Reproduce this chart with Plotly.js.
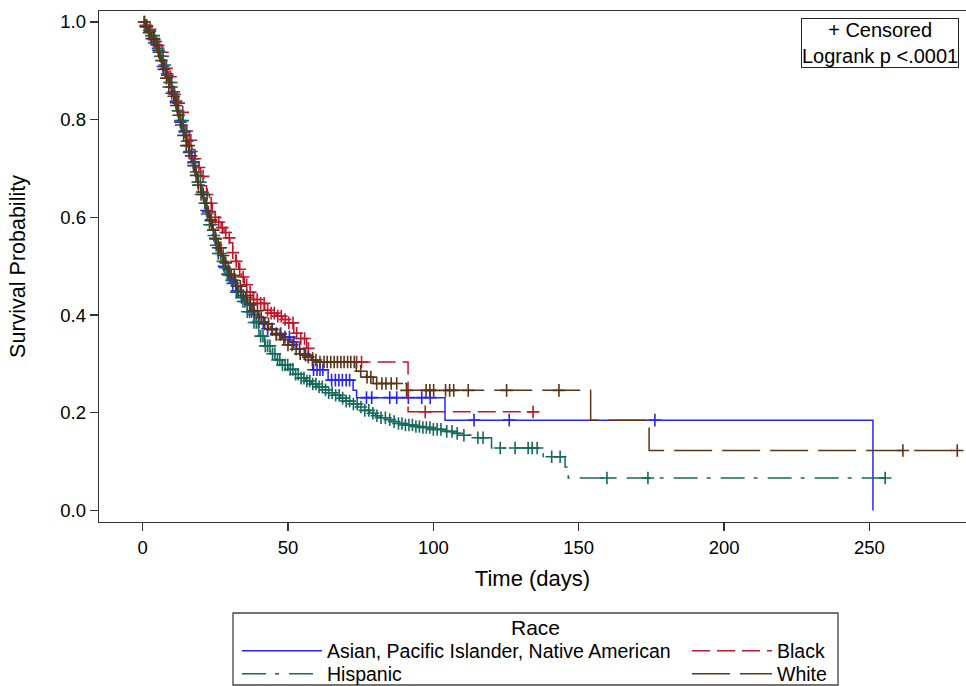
<!DOCTYPE html>
<html><head><meta charset="utf-8">
<script src="https://cdn.plot.ly/plotly-3.0.1.min.js"></script>
<style>html,body{margin:0;padding:0;background:#fff}#chart{width:966px;height:686px}</style>
</head><body><div id="chart"></div>
<script>
// ---- Data (time in days, survival probability) ----
var groupNames = ['Asian, Pacific Islander, Native American', 'Black', 'Hispanic', 'White'];

var asianT = [0,1,2,3,4,5,6,7,8,9,10,11,12,13,14,15,16,17,18,19,20,21,22,23,24,25,26,27,28,29,30,32,34,36,38,40,43,46,48,50.7,53,56,58.5,63.8,72.4,73.6,104,251.2];
var asianS = [1,0.991,0.981,0.97,0.957,0.942,0.926,0.909,0.891,0.873,0.854,0.835,0.815,0.795,0.775,0.754,0.733,0.712,0.692,0.672,0.652,0.633,0.614,0.595,0.576,0.557,0.538,0.519,0.5,0.482,0.465,0.45,0.436,0.421,0.401,0.386,0.372,0.362,0.355,0.345,0.33,0.318,0.288,0.267,0.246,0.231,0.185,0];
var asianC = [1,2.5,4,5.5,7,8.5,10,11.5,13,14.5,16,17.5,19,20.5,22,23.5,25,26.5,28,29.5,31,32.5,34,35.5,37,38.5,40,41.5,43,44.5,46,47.5,49,50.5,52,54,56,58.8,60,61,62,65,66.3,67.5,68.7,70,71.2,77,78.8,85,87.4,91.4,96,98.9,114,126.1,176.2];

var blackT = [0,1,2,3,4,5,6,7,8,9,10,11,12,13,14,15,16,17,18,19,20,21,22,23,24,25,26,27,28,29,30,31,32,33,34,35,36,38,40,42,44,46,48,50,52,54,56.4,58.5,91.3,134.3];
var blackS = [1,0.993,0.985,0.975,0.964,0.952,0.938,0.922,0.905,0.888,0.87,0.852,0.834,0.815,0.796,0.777,0.758,0.739,0.72,0.702,0.684,0.665,0.647,0.629,0.612,0.6,0.59,0.579,0.569,0.558,0.548,0.528,0.51,0.494,0.478,0.462,0.447,0.432,0.424,0.41,0.404,0.398,0.391,0.384,0.363,0.352,0.332,0.304,0.202,0.202];
var blackC = [1.2,2.6,4,5.4,6.8,8.2,9.6,11,12.4,13.8,15.2,16.6,18,19.4,20.8,22.2,23.6,25,26.2,27.4,28.6,29.8,31,32.2,33.4,34.6,35.8,37,38.2,39.4,40.6,41.8,43,44.2,45.3,46.5,47.7,49,50.3,51.7,53,54.4,55.7,57,73.6,75.3,97.2,134.3];

var hispT = [0,1,2,3,4,5,6,7,8,9,10,11,12,13,14,15,16,17,18,19,20,21,22,23,24,25,26,27,28,29,30,32,34,36,38,40,42,44,46,48,50,52,54,56,58,60,62,64,66,68,70,72,74,76,78,80,82,84,86,88,90,93,96,100,104,107,110,113,120,137.8,145.3,146.4,255.4];
var hispS = [1,0.992,0.983,0.972,0.96,0.946,0.93,0.912,0.894,0.876,0.857,0.838,0.818,0.798,0.777,0.756,0.735,0.714,0.693,0.672,0.651,0.629,0.607,0.585,0.563,0.543,0.526,0.51,0.497,0.484,0.471,0.447,0.428,0.407,0.385,0.357,0.337,0.321,0.308,0.298,0.289,0.279,0.271,0.265,0.259,0.253,0.247,0.241,0.236,0.23,0.224,0.218,0.212,0.205,0.199,0.194,0.19,0.186,0.182,0.178,0.175,0.172,0.17,0.166,0.162,0.158,0.154,0.149,0.128,0.11,0.089,0.0667,0.0667];
var hispC = [0.7,1.5,2.3,3,3.8,4.6,5.3,6.1,6.9,7.6,8.4,9.2,9.9,10.7,11.5,12.2,13,13.8,14.5,15.3,16.1,16.8,17.6,18.4,19.1,19.9,20.7,21.4,22.2,23,23.7,24.5,25.3,26,26.8,27.6,28.3,29.1,29.9,30.6,31.4,32.2,32.9,33.7,34.5,35.2,36,36.8,37.5,38.3,39.1,39.8,40.6,41.4,42.2,43,43.8,44.7,45.5,46.4,47.2,48.1,49,49.9,50.8,51.7,52.6,53.5,54.5,55.5,56.5,57.5,58.5,59.6,60.7,61.8,62.9,64,65.2,66.4,67.6,68.8,70,71.2,72.5,73.8,75.1,76.4,77.8,79.2,80.6,82,83.5,85,86.5,88,89.2,90.4,91.6,92.8,94,95.2,96.4,97.6,98.8,100,101.3,102.6,104.6,106.4,108.2,110.5,115.3,117.1,123,128.1,132.6,134,135.7,140.7,143.6,159.7,173.8,255.4];

var whiteT = [0,1,2,3,4,5,6,7,8,9,10,11,12,13,14,15,16,17,18,19,20,21,22,23,24,25,26,27,28,29,30,32,34,36,38,40,42,44,46,48,50,52,54,56,58,60,73.5,77,79.3,90.8,154.1,174.2,280.2];
var whiteS = [1,0.99,0.978,0.966,0.953,0.938,0.921,0.903,0.885,0.867,0.848,0.829,0.809,0.789,0.768,0.747,0.726,0.706,0.686,0.666,0.647,0.629,0.611,0.593,0.574,0.556,0.538,0.522,0.507,0.494,0.481,0.459,0.44,0.424,0.409,0.395,0.382,0.37,0.36,0.35,0.339,0.33,0.321,0.314,0.308,0.304,0.285,0.273,0.26,0.246,0.185,0.123,0.123];
var whiteC = [0.5,1.4,2.2,3.1,3.9,4.8,5.6,6.5,7.3,8.2,9,9.9,10.7,11.6,12.4,13.3,14.1,15,15.8,16.7,17.5,18.4,19.2,20.1,20.9,21.8,22.6,23.5,24.3,25.2,26,26.9,27.7,28.6,29.5,30.5,31.5,32.5,33.6,34.7,35.8,37,38.3,39.5,40.8,42,43.3,44.6,46,47.3,48.6,50,51.4,52.8,54.2,55.6,57,58.4,59.6,61,62.4,63.5,64.7,65.9,67,68.2,69.3,70.5,71.6,72.8,75,77.2,78.5,80.5,82.3,83.7,85.5,87.4,90.8,97.5,98.8,100.1,104.2,105.6,107,112,125.2,143.2,261.5,280.2];

var xTicks = [0, 50, 100, 150, 200, 250];
var yTicks = [0, 0.2, 0.4, 0.6, 0.8, 1.0];
var yTickText = ['0.0', '0.2', '0.4', '0.6', '0.8', '1.0'];

// ---- Styling ----
var colors = ['#2626F2', '#C0182B', '#15695C', '#5C3418'];
var dashes = ['solid', '18px,7px', '24px,9px,4px,10px', '38px,10px'];
var legendIds = ['legend', 'legend2', 'legend3', 'legend4'];

function survAt(T, S, t) {
  var v = S[0];
  for (var i = 0; i < T.length; i++) { if (T[i] <= t) v = S[i]; else break; }
  return v;
}

var series = [
  [asianT, asianS, asianC],
  [blackT, blackS, blackC],
  [hispT, hispS, hispC],
  [whiteT, whiteS, whiteC]
];

var traces = [];
series.forEach(function (g, k) {
  traces.push({
    type: 'scatter', mode: 'lines', x: g[0], y: g[1], name: groupNames[k],
    legend: legendIds[k], showlegend: true, hoverinfo: 'skip',
    line: { shape: 'hv', color: colors[k], width: 1.5, dash: dashes[k] }
  });
  traces.push({
    type: 'scatter', mode: 'markers', x: g[2],
    y: g[2].map(function (t) { return survAt(g[0], g[1], t); }),
    showlegend: false, hoverinfo: 'skip', cliponaxis: true,
    marker: { symbol: 'cross-thin', size: 9, color: colors[k], line: { color: colors[k], width: 1.6 } }
  });
});

var L = 99, T = 11, B = 164, PW = 966 - 99, PH = 686 - 11 - 164;
function px2x(px) { return (px - L) / PW; }
function py2y(py) { return (686 - B - py) / PH; }

function legendAt(xpx, ypx) {
  return {
    x: px2x(xpx), y: py2y(ypx), xanchor: 'left', yanchor: 'middle', orientation: 'v',
    bgcolor: 'rgba(0,0,0,0)', borderwidth: 0, itemwidth: 80,
    font: { size: 19.5, color: '#000' }
  };
}

var axisColor = '#333';
var layout = {
  width: 966, height: 686,
  margin: { l: L, r: 0, t: T, b: B, autoexpand: false },
  paper_bgcolor: '#fff', plot_bgcolor: '#fff',
  font: { family: 'Arial, "Liberation Sans", Helvetica, sans-serif', color: '#000' },
  showlegend: true,
  xaxis: {
    range: [-15, 283.2], tickvals: xTicks, ticks: 'outside', ticklen: 8, tickwidth: 1.3, tickcolor: axisColor,
    showline: true, linecolor: axisColor, linewidth: 1.3, mirror: true, showgrid: false, zeroline: false,
    tickfont: { size: 18.5 },
    title: { text: 'Time (days)', font: { size: 22 }, standoff: 14 }
  },
  yaxis: {
    range: [-0.0235, 1.0225], tickvals: yTicks, ticktext: yTickText, ticks: 'outside', ticklen: 8, tickwidth: 1.3,
    tickcolor: axisColor, showline: true, linecolor: axisColor, linewidth: 1.3, mirror: false,
    showgrid: false, zeroline: false, tickfont: { size: 18.5 },
    title: { text: 'Survival Probability', font: { size: 21.5 }, standoff: 28 }
  },
  legend: legendAt(237, 651),
  legend2: legendAt(687, 651),
  legend3: legendAt(237, 674),
  legend4: legendAt(687, 674),
  shapes: [{
    type: 'rect', xref: 'paper', yref: 'paper', layer: 'above',
    x0: px2x(233), x1: px2x(838), y0: py2y(685), y1: py2y(613),
    line: { color: '#444', width: 1.3 }, fillcolor: 'rgba(0,0,0,0)'
  }],
  annotations: [
    {
      xref: 'paper', yref: 'paper', x: px2x(535), y: py2y(628), xanchor: 'center', yanchor: 'middle',
      text: 'Race', showarrow: false, font: { size: 21 }
    },
    {
      xref: 'paper', yref: 'paper', x: px2x(959), y: py2y(18), xanchor: 'right', yanchor: 'top',
      text: '+ Censored<br>Logrank p &lt;.0001', showarrow: false, align: 'center',
      font: { size: 20 }, bgcolor: '#fff', bordercolor: '#222', borderwidth: 1, borderpad: 0
    }
  ]
};

Plotly.newPlot('chart', traces, layout, { displayModeBar: false, staticPlot: true });
</script>
</body></html>
